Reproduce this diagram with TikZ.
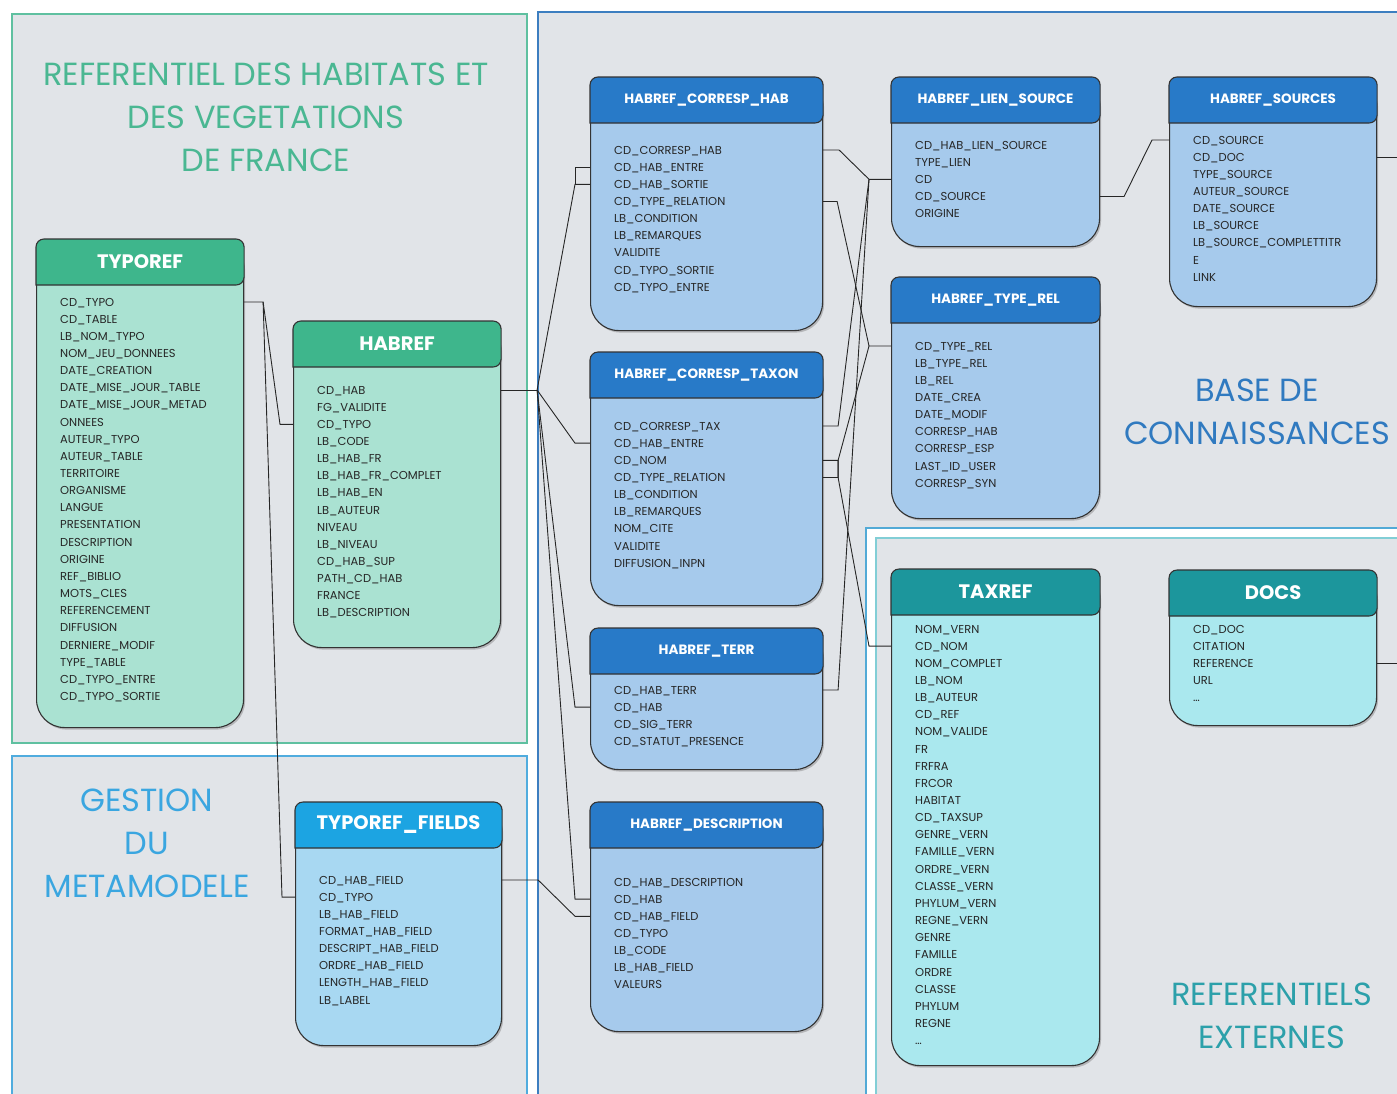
\documentclass[tikz,border=0pt]{standalone}
\usepackage{fontspec}
\setsansfont{Poppins}
\usetikzlibrary{calc,shadows}

\definecolor{pagegray}{RGB}{225,228,232}
\definecolor{gFrame}{RGB}{95,192,160}
\definecolor{gText}{RGB}{74,183,146}
\definecolor{gHead}{RGB}{62,182,140}
\definecolor{gBody}{RGB}{170,226,210}
\definecolor{sFrame}{RGB}{80,172,222}
\definecolor{sText}{RGB}{58,166,224}
\definecolor{sHead}{RGB}{28,164,226}
\definecolor{sBody}{RGB}{168,216,242}
\definecolor{bFrame}{RGB}{60,126,192}
\definecolor{bText}{RGB}{48,122,192}
\definecolor{bHead}{RGB}{40,122,200}
\definecolor{bBody}{RGB}{166,202,236}
\definecolor{tFrame}{RGB}{82,170,214}
\definecolor{tInner}{RGB}{130,206,214}
\definecolor{tText}{RGB}{44,160,170}
\definecolor{tHead}{RGB}{28,150,156}
\definecolor{tBody}{RGB}{170,232,238}

\newcommand\dbtable[9]{%
  \node (#1) [tbl, #6body, minimum width=#4pt, minimum height=#5pt] at (#2,#3) {};
  \path[tblhead, #6head] (#1.north west) ++(0,46) [rounded corners=8pt] -- (#1.north west)
    -- (#1.north east) -- ++(0,46) [sharp corners] -- cycle;
  \node (#1-t) [#6title] at ([yshift=-23pt]#1.north) {#7};
  \foreach \f [count=\i] in {#9}
    \node (#1-\i) [field] at ($(#1.north west)+(24,#8+17.15*\i-17.15)$) {\f};
}

\begin{document}
\begin{tikzpicture}[x=1pt, y=-1pt,
    tbl/.style = {rectangle, rounded corners=28pt, draw=black!80, line width=1.1pt,
      anchor=north west, drop shadow={opacity=.45, shadow xshift=1.5pt, shadow yshift=-2pt}},
    tblhead/.style = {draw=black!80, line width=1.1pt},
    bigtitle/.style = {text=white, font=\sffamily\bfseries\fontsize{19.5}{22}\selectfont},
    smalltitle/.style = {text=white, font=\sffamily\bfseries\fontsize{13.5}{16}\selectfont},
    greenbody/.style = {fill=gBody}, greenhead/.style = {fill=gHead}, greentitle/.style = {bigtitle},
    skybody/.style = {fill=sBody}, skyhead/.style = {fill=sHead}, skytitle/.style = {bigtitle},
    bluebody/.style = {fill=bBody}, bluehead/.style = {fill=bHead}, bluetitle/.style = {smalltitle},
    tealbody/.style = {fill=tBody}, tealhead/.style = {fill=tHead}, tealtitle/.style = {bigtitle},
    field/.style = {anchor=west, inner sep=0pt, text height=8pt, text depth=0pt,
      text=black!85, font=\sffamily\fontsize{11.5}{13}\selectfont},
    area/.style = {align=center, font=\sffamily\fontsize{32}{43}\selectfont},
    link/.style = {draw=black!85, line width=0.9pt}
]
  \useasboundingbox (0,0) rectangle (1397,1093);

  \draw[gFrame, line width=2pt, fill=pagegray] (12,14) rectangle (527,743);
  \draw[sFrame, line width=2pt, fill=pagegray] (12,756) rectangle (527,1110);
  \draw[bFrame, line width=2pt, fill=pagegray] (538,12) rectangle (1410,1110);
  \draw[tFrame, line width=2pt, fill=white] (866,528) rectangle (1410,1110);
  \draw[tInner, line width=2pt, fill=pagegray] (876,538) rectangle (1410,1110);

  \node (habitats) [area, text=gText] at (266,117) {REFERENTIEL DES HABITATS ET\\DES VEGETATIONS\\DE FRANCE};
  \node (gestion) [area, text=sText] at (147,843) {GESTION\\DU\\METAMODELE};
  \node (base) [area, text=bText] at (1257,412) {BASE DE\\CONNAISSANCES};
  \node (externes) [area, text=tText] at (1272,1016) {REFERENTIELS\\EXTERNES};

  \dbtable{typoref}{36}{239}{207}{488}{green}{TYPOREF}{63}{CD\_TYPO,CD\_TABLE,LB\_NOM\_TYPO,NOM\_JEU\_DONNEES,DATE\_CREATION,DATE\_MISE\_JOUR\_TABLE,DATE\_MISE\_JOUR\_METAD,ONNEES,AUTEUR\_TYPO,AUTEUR\_TABLE,TERRITOIRE,ORGANISME,LANGUE,PRESENTATION,DESCRIPTION,ORIGINE,REF\_BIBLIO,MOTS\_CLES,REFERENCEMENT,DIFFUSION,DERNIERE\_MODIF,TYPE\_TABLE,CD\_TYPO\_ENTRE,CD\_TYPO\_SORTIE}
  \dbtable{habref}{293}{321}{207}{326}{green}{HABREF}{69}{CD\_HAB,FG\_VALIDITE,CD\_TYPO,LB\_CODE,LB\_HAB\_FR,LB\_HAB\_FR\_COMPLET,LB\_HAB\_EN,LB\_AUTEUR,NIVEAU,LB\_NIVEAU,CD\_HAB\_SUP,PATH\_CD\_HAB,FRANCE,LB\_DESCRIPTION}
  \dbtable{typofields}{295}{802}{206}{243}{sky}{TYPOREF\_FIELDS}{78}{CD\_HAB\_FIELD,CD\_TYPO,LB\_HAB\_FIELD,FORMAT\_HAB\_FIELD,DESCRIPT\_HAB\_FIELD,ORDRE\_HAB\_FIELD,LENGTH\_HAB\_FIELD,LB\_LABEL}
  \dbtable{corresphab}{590}{77}{232}{253}{blue}{HABREF\_CORRESP\_HAB}{73}{CD\_CORRESP\_HAB,CD\_HAB\_ENTRE,CD\_HAB\_SORTIE,CD\_TYPE\_RELATION,LB\_CONDITION,LB\_REMARQUES,VALIDITE,CD\_TYPO\_SORTIE,CD\_TYPO\_ENTRE}
  \dbtable{corresptaxon}{590}{352}{232}{253}{blue}{HABREF\_CORRESP\_TAXON}{74}{CD\_CORRESP\_TAX,CD\_HAB\_ENTRE,CD\_NOM,CD\_TYPE\_RELATION,LB\_CONDITION,LB\_REMARQUES,NOM\_CITE,VALIDITE,DIFFUSION\_INPN}
  \dbtable{habterr}{590}{628}{232}{141}{blue}{HABREF\_TERR}{62}{CD\_HAB\_TERR,CD\_HAB,CD\_SIG\_TERR,CD\_STATUT\_PRESENCE}
  \dbtable{habdesc}{590}{802}{232}{229}{blue}{HABREF\_DESCRIPTION}{80}{CD\_HAB\_DESCRIPTION,CD\_HAB,CD\_HAB\_FIELD,CD\_TYPO,LB\_CODE,LB\_HAB\_FIELD,VALEURS}
  \dbtable{liensource}{891}{77}{208}{169}{blue}{HABREF\_LIEN\_SOURCE}{68}{CD\_HAB\_LIEN\_SOURCE,TYPE\_LIEN,CD,CD\_SOURCE,ORIGINE}
  \dbtable{typerel}{891}{277}{208}{241}{blue}{HABREF\_TYPE\_REL}{69}{CD\_TYPE\_REL,LB\_TYPE\_REL,LB\_REL,DATE\_CREA,DATE\_MODIF,CORRESP\_HAB,CORRESP\_ESP,LAST\_ID\_USER,CORRESP\_SYN}
  \dbtable{sources}{1169}{77}{207}{229}{blue}{HABREF\_SOURCES}{63}{CD\_SOURCE,CD\_DOC,TYPE\_SOURCE,AUTEUR\_SOURCE,DATE\_SOURCE,LB\_SOURCE,LB\_SOURCE\_COMPLETTITR,E,LINK}
  \dbtable{taxref}{891}{569}{208}{496}{teal}{TAXREF}{60}{NOM\_VERN,CD\_NOM,NOM\_COMPLET,LB\_NOM,LB\_AUTEUR,CD\_REF,NOM\_VALIDE,FR,FRFRA,FRCOR,HABITAT,CD\_TAXSUP,GENRE\_VERN,FAMILLE\_VERN,ORDRE\_VERN,CLASSE\_VERN,PHYLUM\_VERN,REGNE\_VERN,GENRE,FAMILLE,ORDRE,CLASSE,PHYLUM,REGNE,\ldots}
  \dbtable{docs}{1169}{570}{207}{155}{teal}{DOCS}{59}{CD\_DOC,CITATION,REFERENCE,URL,\ldots}

  \draw[link] (typoref.east |- typoref-1) -- ++(19,0) coordinate (typoj)
    -- ([xshift=-13pt]habref.west |- habref-3) -- (habref.west |- habref-3);
  \draw[link] (typoj) -- ([xshift=-13pt]typofields.west |- typofields-2) -- (typofields.west |- typofields-2);

  \draw[link] (habref.east |- habref-1) -- ++(36,0) coordinate (habj);
  \draw[link] (habj) -- ([xshift=-15pt]corresphab.west |- corresphab-3) -- (corresphab.west |- corresphab-3);
  \draw[link] (corresphab.west |- corresphab-2) -| ([xshift=-15pt]corresphab.west |- corresphab-3);
  \draw[link] (habj) -- ([xshift=-15pt]corresptaxon.west |- corresptaxon-2) -- (corresptaxon.west |- corresptaxon-2);
  \draw[link] (habj) -- ([xshift=-15pt]habterr.west |- habterr-2) -- (habterr.west |- habterr-2);
  \draw[link] (habj) -- ([xshift=-15pt]habdesc.west |- habdesc-2) -- (habdesc.west |- habdesc-2);
  \draw[link] (typofields.east |- typofields-1) -- ++(36,0)
    -- ([xshift=-15pt]habdesc.west |- habdesc-3) -- (habdesc.west |- habdesc-3);

  \coordinate (cdj) at ([xshift=-22pt]liensource.west |- liensource-3);
  \coordinate (relj) at ([xshift=-22pt]typerel.west |- typerel-1);
  \coordinate (nomj) at ([xshift=-22pt]taxref.west |- taxref-2);
  \draw[link] (corresphab.east |- corresphab-1) -- ++(16,0) -- (cdj) -- (liensource.west |- liensource-3);
  \draw[link] (corresptaxon.east |- corresptaxon-1) -- ++(15,0) -- (cdj);
  \draw[link] (habterr.east |- habterr-1) -- ++(15,0) -- (cdj);
  \draw[link] (corresphab.east |- corresphab-4) -- ++(14,0) -- (relj) -- (typerel.west |- typerel-1);
  \draw[link] (corresptaxon.east |- corresptaxon-4) -- ++(15,0) |- ([xshift=15pt]corresptaxon.east |- corresptaxon-3) -- (relj);
  \draw[link] (corresptaxon.east |- corresptaxon-3) -- ++(15,0) |- ([xshift=15pt]corresptaxon.east |- corresptaxon-4) -- (nomj) -- (taxref.west |- taxref-2);

  \draw[link] (liensource.east |- liensource-4) -- ++(24,0)
    -- ([xshift=-17pt]sources.west |- sources-1) -- (sources.west |- sources-1);
  \draw[link] (sources.east |- sources-2) -- ++(25,0);
  \draw[link] (docs.east |- docs-3) -- ++(25,0);

\end{tikzpicture}
\end{document}
